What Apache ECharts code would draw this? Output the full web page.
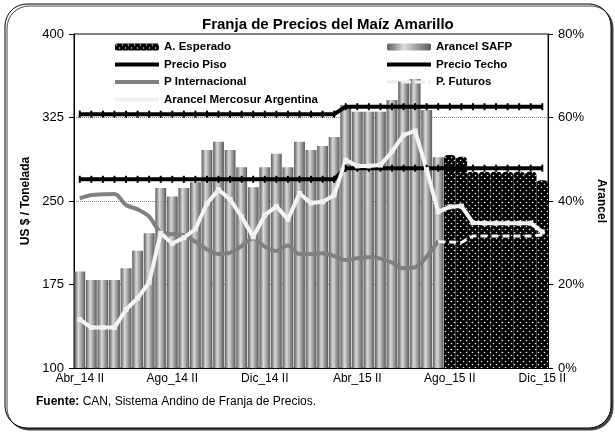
<!DOCTYPE html>
<html>
<head>
<meta charset="utf-8">
<script src="https://cdn.jsdelivr.net/npm/echarts@6/dist/echarts.min.js"></script>
<style>
  html, body { margin: 0; padding: 0; background: #fff; }
  #chart { width: 615px; height: 432px; }
</style>
</head>
<body>
<div id="chart"></div>
<script>
// quincenas
var categorias = [
  'Abr_14 II', 'May_14 I', 'May_14 II', 'Jun_14 I', 'Jun_14 II', 'Jul_14 I', 'Jul_14 II', 'Ago_14 I',
  'Ago_14 II', 'Sep_14 I', 'Sep_14 II', 'Oct_14 I', 'Oct_14 II', 'Nov_14 I', 'Nov_14 II', 'Dic_14 I',
  'Dic_14 II', 'Ene_15 I', 'Ene_15 II', 'Feb_15 I', 'Feb_15 II', 'Mar_15 I', 'Mar_15 II', 'Abr_15 I',
  'Abr_15 II', 'May_15 I', 'May_15 II', 'Jun_15 I', 'Jun_15 II', 'Jul_15 I', 'Jul_15 II', 'Ago_15 I',
  'Ago_15 II', 'Sep_15 I', 'Sep_15 II', 'Oct_15 I', 'Oct_15 II', 'Nov_15 I', 'Nov_15 II', 'Dic_15 I',
  'Dic_15 II'
];

// % (eje derecho)
var arancelSAFP = [23.1, 21.1, 21.1, 21.1, 23.9, 28.1, 32.3, 43.1, 41.1, 43.1, 44.5, 52.2, 54.2, 52.2,
  48.1, 43.3, 48.1, 51.3, 48.1, 54.2, 52.2, 53.2, 55.3, 63.0, 61.4, 61.4, 61.4, 64.2, 68.6, 69.2, 61.8, 50.5,
  null, null, null, null, null, null, null, null, null];
var aEsperado = [null, null, null, null, null, null, null, null, null, null, null, null, null, null, null, null,
  null, null, null, null, null, null, null, null, null, null, null, null, null, null, null, null,
  51.0, 50.6, 47.0, 47.0, 47.0, 47.0, 47.0, 47.0, 45.0];
var arancelMercosur = [11.6, 9.7, 9.7, 9.7, 14.0, 16.7, 20.5, 32.3, 29.8, 31.2, 33.3, 39.4, 42.7, 40.4,
  36.2, 31.4, 36.6, 38.7, 35.6, 41.8, 39.5, 39.8, 41.4, 49.8, 48.4, 48.4, 48.6, 51.8, 55.8, 56.8, 47.5, 37.4,
  38.6, 38.8, 34.8, 34.7, 34.7, 34.7, 34.7, 34.7, 32.6];

// US$/t (eje izquierdo)
var precioPiso = [269.5, 269.5, 269.5, 269.5, 269.5, 269.5, 269.5, 269.5, 269.5, 269.5, 269.5, 269.5,
  269.5, 269.5, 269.5, 269.5, 269.5, 269.5, 269.5, 269.5, 269.5, 269.5, 269.5,
  279.5, 279.5, 279.5, 279.5, 279.5, 279.5, 279.5, 279.5, 279.5, 279.5, 279.5, 279.5, 279.5, 279.5,
  279.5, 279.5, 279.5, 279.5];
var precioTecho = [328, 328, 328, 328, 328, 328, 328, 328, 328, 328, 328, 328, 328, 328, 328, 328,
  328, 328, 328, 328, 328, 328, 328,
  334.7, 334.7, 334.7, 334.7, 334.7, 334.7, 334.7, 334.7, 334.7, 334.7, 334.7, 334.7, 334.7, 334.7,
  334.7, 334.7, 334.7, 334.7];
var pInternacional = [252.4, 255.4, 256.0, 256.3, 246.4, 242.5, 235.9, 222.0, 220.4, 219.0, 213.4, 206.5,
  202.5, 203.7, 209.6, 216.5, 209.0, 205.1, 210.0, 202.4, 202.4, 203.0, 200.6, 197.0, 198.5, 199.4, 198.2,
  194.6, 189.6, 190.5, 200.0, 214.1,
  null, null, null, null, null, null, null, null, null];
var pFuturos = [null, null, null, null, null, null, null, null, null, null, null, null, null, null, null, null,
  null, null, null, null, null, null, null, null, null, null, null, null, null, null, null,
  213.4, 213.2, 212.7, 218.6, 218.6, 218.6, 218.6, 218.6, 218.6, 219.5];

var ticksIzq = [100, 400, 75];
var ticksDer = [0, 80, 20];

// trama de puntos para el arancel esperado
var trama = document.createElement('canvas');
trama.width = 6; trama.height = 6;
var ctx = trama.getContext('2d');
ctx.fillStyle = '#000';
ctx.fillRect(0, 0, 6, 6);
ctx.fillStyle = '#e8e8e8';
ctx.beginPath(); ctx.arc(1.5, 1.5, 0.8, 0, Math.PI * 2); ctx.fill();
ctx.beginPath(); ctx.arc(4.5, 4.5, 0.8, 0, Math.PI * 2); ctx.fill();

var fuente = 'Liberation Sans, Arial, sans-serif';
var iconoLinea = 'path://M0,0h44v4h-44z';
var iconoGuion = 'path://M0,0h10v3h-10z M14,0h10v3h-10z M28,0h10v3h-10z M41,0h3v3h-3z';
var estiloLeyenda = { fontSize: 11.5, fontWeight: 'bold', fontFamily: fuente, color: '#000' };

var chart = echarts.init(document.getElementById('chart'));

var option = {
  animation: false,
  backgroundColor: '#fff',
  textStyle: { fontFamily: fuente, color: '#000' },
  title: [{
    text: 'Franja de Precios del Maíz Amarillo',
    left: 197, top: 12,
    textStyle: { fontSize: 15, fontWeight: 'bold', color: '#000', fontFamily: fuente }
  }, {
    text: '{b|Fuente:} CAN, Sistema Andino de Franja de Precios.',
    left: 31, top: 391,
    textStyle: {
      fontSize: 12, fontWeight: 'normal', color: '#000', fontFamily: fuente,
      rich: { b: { fontSize: 12, fontWeight: 'bold', fontFamily: fuente } }
    }
  }],
  graphic: [{
    type: 'rect', z: -10,
    shape: { x: 5, y: 4, width: 606, height: 424, r: 22 },
    style: { fill: '#fff', stroke: '#000', lineWidth: 1, shadowColor: '#444', shadowOffsetX: 2, shadowOffsetY: 2, shadowBlur: 0 }
  }],
  legend: [{
    orient: 'vertical', left: 110, top: 36, itemWidth: 44, itemHeight: 7, itemGap: 5.5,
    textStyle: estiloLeyenda,
    data: [
      { name: 'A. Esperado' },
      { name: 'Precio Piso', icon: iconoLinea },
      { name: 'P Internacional', icon: iconoLinea },
      { name: 'Arancel Mercosur Argentina', icon: iconoLinea }
    ]
  }, {
    orient: 'vertical', left: 382, top: 36, itemWidth: 44, itemHeight: 7, itemGap: 5.5,
    textStyle: estiloLeyenda,
    data: [
      { name: 'Arancel SAFP' },
      { name: 'Precio Techo', icon: iconoLinea },
      { name: 'P. Futuros', icon: iconoGuion }
    ]
  }],
  grid: { left: 74, right: 63, top: 34, bottom: 64, show: true, borderColor: '#000', borderWidth: 1 },
  xAxis: [{
    type: 'category', data: categorias, boundaryGap: true,
    axisLine: { lineStyle: { color: '#000', width: 1 } },
    axisTick: { interval: 3, length: 5, lineStyle: { color: '#000' } },
    axisLabel: { interval: 7, fontSize: 12, color: '#000', margin: 5, fontFamily: fuente }
  }, {
    type: 'category', data: categorias, show: false
  }, {
    type: 'category', data: categorias, show: false
  }],
  yAxis: [{
    type: 'value', min: ticksIzq[0], max: ticksIzq[1], interval: ticksIzq[2],
    name: 'US $ / Tonelada', nameLocation: 'middle', nameGap: 28,
    nameTextStyle: { fontSize: 12, fontWeight: 'bold', color: '#000', fontFamily: fuente },
    axisLine: { show: true, lineStyle: { color: '#000' } },
    axisTick: { show: true, length: 5, lineStyle: { color: '#000' } },
    axisLabel: { fontSize: 13, color: '#000', margin: 10, fontFamily: fuente },
    splitLine: { show: true, lineStyle: { color: '#888', type: 'dotted', width: 1 } }
  }, {
    type: 'value', min: ticksDer[0], max: ticksDer[1], interval: ticksDer[2], position: 'right',
    name: 'Arancel', nameLocation: 'middle', nameGap: 40, nameRotate: -90,
    nameTextStyle: { fontSize: 12, fontWeight: 'bold', color: '#000', fontFamily: fuente },
    axisLine: { show: true, lineStyle: { color: '#000' } },
    axisTick: { show: true, length: 5, lineStyle: { color: '#000' } },
    axisLabel: { fontSize: 13, color: '#000', margin: 10, formatter: '{value}%', fontFamily: fuente },
    splitLine: { show: false }
  }],
  series: [{
    name: 'Arancel SAFP', type: 'bar', xAxisIndex: 0, yAxisIndex: 1, data: arancelSAFP,
    barCategoryGap: '6%',
    itemStyle: {
      color: new echarts.graphic.LinearGradient(0, 0, 1, 0, [
        { offset: 0, color: '#5e5e5e' },
        { offset: 0.18, color: '#959595' },
        { offset: 0.38, color: '#dadada' },
        { offset: 0.55, color: '#b8b8b8' },
        { offset: 0.8, color: '#858585' },
        { offset: 1, color: '#5a5a5a' }
      ])
    }
  }, {
    // tapa clara de cada columna
    name: 'tapa', type: 'pictorialBar', xAxisIndex: 2, yAxisIndex: 1, data: arancelSAFP,
    symbol: 'path://M0,0L10,0L5,6Z', symbolSize: [9, 5], symbolPosition: 'end',
    symbolOffset: [0, 0], silent: true,
    itemStyle: { color: '#ececec' }
  }, {
    name: 'A. Esperado', type: 'bar', xAxisIndex: 1, yAxisIndex: 1, data: aEsperado,
    barWidth: '100%',
    itemStyle: { color: { image: trama, repeat: 'repeat' }, borderRadius: [4, 4, 0, 0] }
  }, {
    name: 'P Internacional', type: 'line', yAxisIndex: 0, data: pInternacional, smooth: 0.35,
    showSymbol: false, symbol: 'none',
    lineStyle: { color: '#808080', width: 4 }, itemStyle: { color: '#808080' }
  }, {
    name: 'Precio Piso', type: 'line', yAxisIndex: 0, data: precioPiso,
    symbol: 'rect', symbolSize: [2, 7],
    lineStyle: { color: '#000', width: 4 }, itemStyle: { color: '#000' }
  }, {
    name: 'Precio Techo', type: 'line', yAxisIndex: 0, data: precioTecho,
    symbol: 'rect', symbolSize: [2, 7],
    lineStyle: { color: '#000', width: 4 }, itemStyle: { color: '#000' }
  }, {
    name: 'Arancel Mercosur Argentina', type: 'line', yAxisIndex: 1, data: arancelMercosur,
    symbol: 'rect', symbolSize: 5,
    lineStyle: { color: '#f4f4f4', width: 4 }, itemStyle: { color: '#f0f0f0', borderWidth: 0 }
  }, {
    name: 'P. Futuros', type: 'line', yAxisIndex: 0, data: pFuturos,
    symbol: 'none',
    lineStyle: { color: '#f4f4f4', width: 3, type: [7, 4] }, itemStyle: { color: '#ececec' }
  }]
};

chart.setOption(option);
</script>
</body>
</html>
